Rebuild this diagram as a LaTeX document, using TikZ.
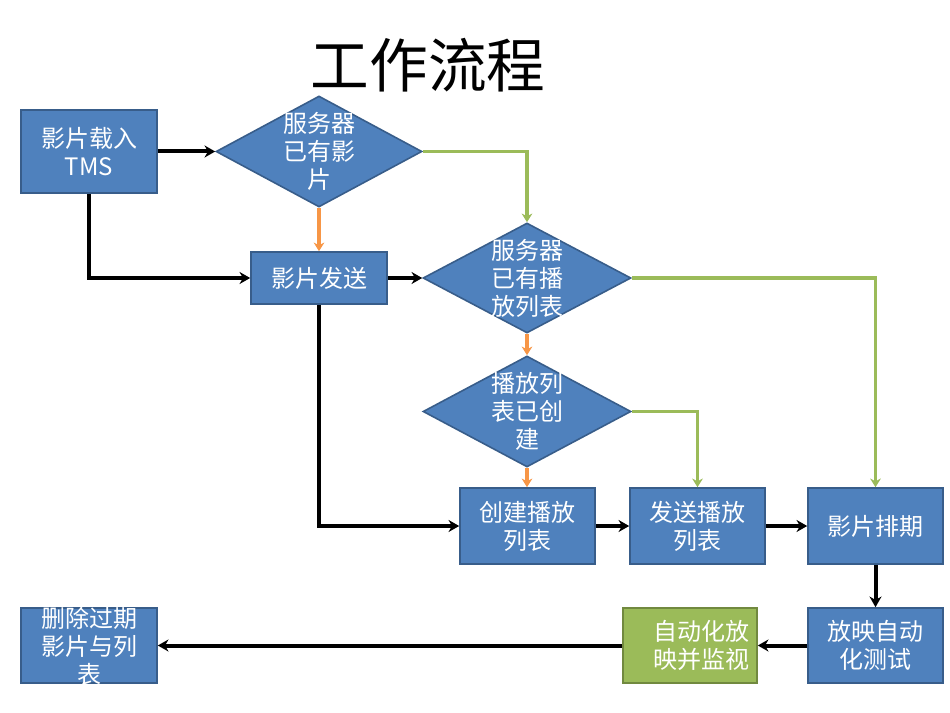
\documentclass[tikz,border=0pt]{standalone}
\usepackage{fontspec}
\setmainfont{Noto Sans CJK SC}
\usetikzlibrary{shapes.geometric,arrows.meta}
\definecolor{bfill}{HTML}{4F81BD}
\definecolor{bdraw}{HTML}{385D8A}
\definecolor{gfill}{HTML}{9BBB59}
\definecolor{gdraw}{HTML}{71893F}
\definecolor{oline}{HTML}{F79646}
\definecolor{gline}{HTML}{9BBB59}
\tikzset{
  boxnode/.style={draw=bdraw,fill=bfill,line width=1.2pt,inner sep=0pt,text=white,align=center,
    font=\fontsize{18}{21}\selectfont},
  greenbox/.style={boxnode,draw=gdraw,fill=gfill},
  decision/.style={diamond,draw=bdraw,fill=bfill,line width=1.2pt,inner sep=0pt},
  txt/.style={text=white,align=center,inner sep=0pt,font=\fontsize{18}{21}\selectfont},
  blackarrow/.style={line width=3pt,-{Stealth[length=8pt,width=9pt]}},
  orangearrow/.style={draw=oline,line width=2.4pt,-{Stealth[length=6.5pt,width=8pt]}},
  greenarrow/.style={draw=gline,line width=2.4pt,-{Stealth[length=6.5pt,width=8pt]}},
}
\begin{document}
\begin{tikzpicture}[x=0.75pt,y=-0.75pt]
\useasboundingbox (0,0) rectangle (950,713);
\node[font=\fontsize{44}{50}\selectfont,inner sep=0pt] (title) at (428,65) {工作流程};

\node[boxnode,minimum width=102pt,minimum height=62.25pt] (b1) at (89,151.5) {影片载入\\TMS};
\node[decision,minimum width=154.5pt,minimum height=83.25pt] (d1) at (319,151.5) {};
\node[txt] (d1t) at (d1.center) {服务器\\已有影\\片};

\node[boxnode,minimum width=102pt,minimum height=39pt] (bsend) at (319,278) {影片发送};
\node[decision,minimum width=156pt,minimum height=82.5pt] (d2) at (527,278) {};
\node[txt] (d2t) at (d2.center) {服务器\\已有播\\放列表};

\node[decision,minimum width=156pt,minimum height=83.25pt] (d3) at (527,411.5) {};
\node[txt] (d3t) at (d3.center) {播放列\\表已创\\建};

\node[boxnode,minimum width=101.25pt,minimum height=57pt] (bcreate) at (527.5,526) {创建播放\\列表};
\node[boxnode,minimum width=101.25pt,minimum height=57pt] (bsendpl) at (697.5,526) {发送播放\\列表};
\node[boxnode,minimum width=101.25pt,minimum height=57pt] (bsched) at (875.5,526) {影片排期};

\node[boxnode,minimum width=101.25pt,minimum height=56.25pt] (btest) at (875.5,645.5) {放映自动\\化测试};
\node[greenbox,minimum width=100.5pt,minimum height=56.25pt] (bmon) at (690,645.5) {};
\node[txt,align=right,anchor=east] (bmont) at (750,645.5) {自动化放\\映并监视};
\node[boxnode,minimum width=102pt,minimum height=56.25pt] (bdel) at (89,645.5) {};
\node[txt] (bdelt) at (89,646) {删除过期\\影片与列\\表};

% connectors
\draw[blackarrow] (b1.east) -- (d1.west);
\draw[blackarrow] (b1.south) |- (bsend.west);
\draw[orangearrow] (d1.south) -- (bsend.north);
\draw[greenarrow] (d1.east) -| (d2.north);
\draw[blackarrow] (bsend.east) -- (d2.west);
\draw[orangearrow] (d2.south) -- (d3.north);
\draw[greenarrow] (d2.east) -| (bsched.north);
\draw[orangearrow] (d3.south) -- (d3.south |- bcreate.north);
\draw[greenarrow] (d3.east) -| (bsendpl.north);
\draw[blackarrow] (bsend.south) |- (bcreate.west);
\draw[blackarrow] (bcreate.east) -- (bsendpl.west);
\draw[blackarrow] (bsendpl.east) -- (bsched.west);
\draw[blackarrow] (bsched.south) -- (btest.north);
\draw[blackarrow] (btest.west) -- (bmon.east);
\draw[blackarrow] (bmon.west) -- (bdel.east);
\end{tikzpicture}
\end{document}
